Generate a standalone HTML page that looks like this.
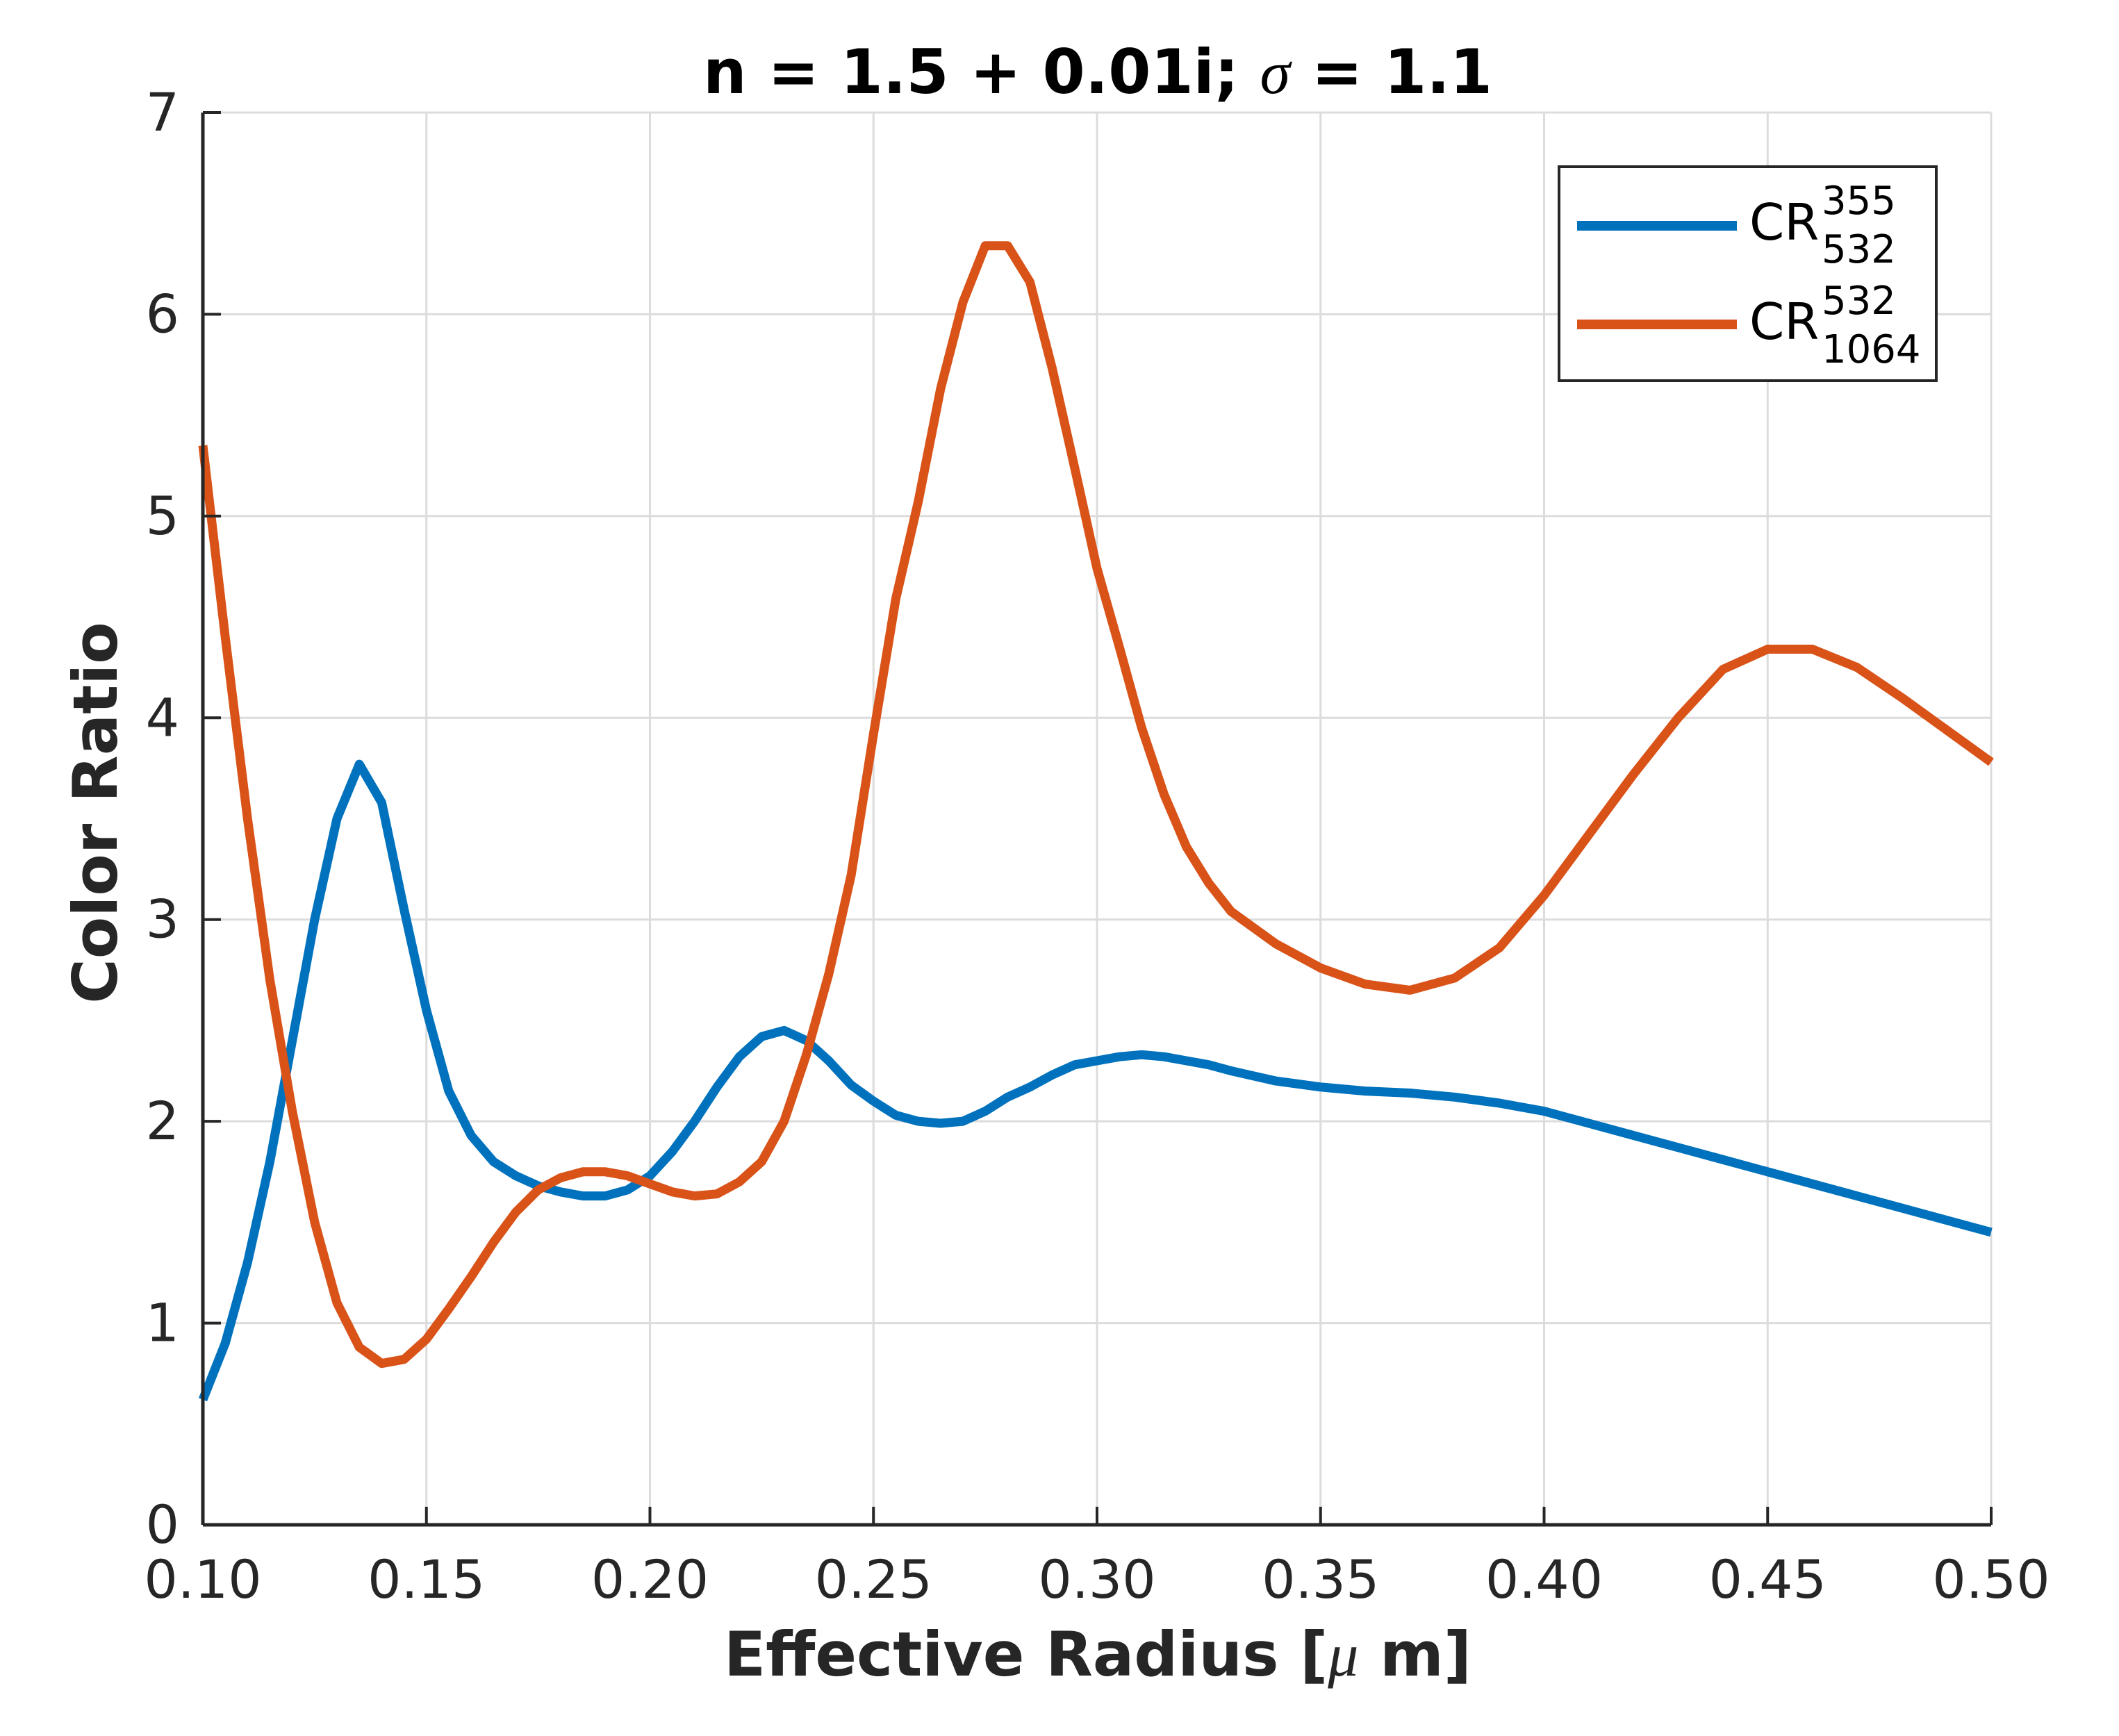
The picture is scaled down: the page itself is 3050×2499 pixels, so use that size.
<!DOCTYPE html>
<html><head><meta charset="utf-8"><style>
html,body{margin:0;padding:0;background:#fff;}
svg{display:block;font-family:"DejaVu Sans","Liberation Sans",sans-serif;}
</style></head><body>
<svg id="chart" width="3050" height="2499" viewBox="0 0 3050 2499" xmlns="http://www.w3.org/2000/svg">
<rect x="0" y="0" width="3050" height="2499" fill="#fff"/>
<g id="grid"></g>
<g id="series"></g>
<g id="axes"></g>
<text x="1580" y="134" text-anchor="middle" font-size="88" font-weight="bold" fill="#000">n = 1.5 + 0.01i; <tspan font-family="Liberation Serif,serif" font-style="italic" font-weight="normal">σ</tspan> = 1.1</text>
<text x="1580" y="2412" text-anchor="middle" font-size="88" font-weight="bold" fill="#262626">Effective Radius [<tspan font-family="Liberation Serif,serif" font-style="italic" font-weight="normal">μ</tspan> m]</text>
<text transform="translate(168,1170) rotate(-90)" text-anchor="middle" font-size="88" font-weight="bold" fill="#262626">Color Ratio</text>
<g>
<rect x="2244" y="240" width="543" height="308" fill="#fff" stroke="#262626" stroke-width="4"/>
<line x1="2270" y1="325" x2="2500" y2="325" stroke="#0072BD" stroke-width="14"/>
<text x="2518" y="345" font-size="72" fill="#000">CR</text>
<text x="2622" y="308" font-size="56" fill="#000">355</text>
<text x="2622" y="378" font-size="56" fill="#000">532</text>
<line x1="2270" y1="467" x2="2500" y2="467" stroke="#D95319" stroke-width="14"/>
<text x="2518" y="488" font-size="72" fill="#000">CR</text>
<text x="2622" y="452" font-size="56" fill="#000">532</text>
<text x="2622" y="522" font-size="56" fill="#000">1064</text>
</g>
</svg>
<script>
const radius = [0.10,0.105,0.11,0.115,0.12,0.125,0.13,0.135,0.14,0.145,0.15,0.155,0.16,0.165,0.17,0.175,0.18,0.185,0.19,0.195,0.20,0.205,0.21,0.215,0.22,0.225,0.23,0.235,0.24,0.245,0.25,0.255,0.26,0.265,0.27,0.275,0.28,0.285,0.29,0.295,0.30,0.305,0.31,0.315,0.32,0.325,0.33,0.34,0.35,0.36,0.37,0.38,0.39,0.40,0.41,0.42,0.43,0.44,0.45,0.46,0.47,0.48,0.49,0.50];
const cr355 = [0.62,0.9,1.3,1.8,2.4,3.0,3.5,3.77,3.58,3.05,2.55,2.15,1.93,1.8,1.73,1.68,1.65,1.63,1.63,1.66,1.73,1.85,2.0,2.17,2.32,2.42,2.45,2.4,2.3,2.18,2.1,2.03,2.0,1.99,2.0,2.05,2.12,2.17,2.23,2.28,2.3,2.32,2.33,2.32,2.3,2.28,2.25,2.2,2.17,2.15,2.14,2.12,2.09,2.05,1.99,1.93,1.87,1.81,1.75,1.69,1.63,1.57,1.51,1.45];
const cr532 = [5.35,4.4,3.5,2.7,2.05,1.5,1.1,0.88,0.8,0.82,0.92,1.07,1.23,1.4,1.55,1.66,1.72,1.75,1.75,1.73,1.69,1.65,1.63,1.64,1.7,1.8,2.0,2.33,2.73,3.22,3.92,4.59,5.07,5.63,6.06,6.34,6.34,6.16,5.73,5.24,4.74,4.35,3.95,3.62,3.36,3.18,3.04,2.88,2.76,2.68,2.65,2.71,2.86,3.12,3.42,3.72,4.0,4.24,4.34,4.34,4.25,4.1,3.94,3.78];
const xTicks = [0.10,0.15,0.20,0.25,0.30,0.35,0.40,0.45,0.50];
const xTickLabels = ["0.10","0.15","0.20","0.25","0.30","0.35","0.40","0.45","0.50"];
const yTicks = [0,1,2,3,4,5,6,7];
const yTickLabels = ["0","1","2","3","4","5","6","7"];

const L=292,R=2866,T=162,B=2195;
const xs = v => L + (v-0.10)/(0.50-0.10)*(R-L);
const ys = v => B - v/7*(B-T);
const NS="http://www.w3.org/2000/svg";
function mk(tag, attrs, parent){const e=document.createElementNS(NS,tag);for(const k in attrs)e.setAttribute(k,attrs[k]);parent.appendChild(e);return e;}
const grid=document.getElementById('grid'), axes=document.getElementById('axes'), series=document.getElementById('series');

xTicks.forEach((t,i)=>{
  const gl=mk('line',{x1:xs(t),x2:xs(t),y1:T,y2:B,stroke:'#dcdcdc','stroke-width':3},grid);
  
  
  const tk=mk('line',{x1:xs(t),x2:xs(t),y1:B,y2:B-26,stroke:'#262626','stroke-width':4},axes);
  
  
  const tl=mk('text',{x:xs(t),y:B+105,'text-anchor':'middle','font-size':76,fill:'#262626'},axes);
  tl.textContent=xTickLabels[i];
  
  
});
yTicks.forEach((t,i)=>{
  const gl=mk('line',{x1:L,x2:R,y1:ys(t),y2:ys(t),stroke:'#dcdcdc','stroke-width':3},grid);
  
  
  const tk=mk('line',{x1:L,x2:L+26,y1:ys(t),y2:ys(t),stroke:'#262626','stroke-width':4},axes);
  
  
  const tl=mk('text',{x:L-34,y:ys(t)+26,'text-anchor':'end','font-size':76,fill:'#262626'},axes);
  tl.textContent=yTickLabels[i];
  
  
});
const xa=mk('line',{x1:L,x2:R,y1:B,y2:B,stroke:'#262626','stroke-width':5},axes);


const ya=mk('line',{x1:L,x2:L,y1:T,y2:B,stroke:'#262626','stroke-width':5},axes);



function pts(arr){return radius.map((r,i)=>xs(r).toFixed(1)+','+ys(arr[i]).toFixed(1)).join(' ');}
const p1=mk('polyline',{points:pts(cr355),fill:'none',stroke:'#0072BD','stroke-width':13,'stroke-linejoin':'round'},series);


const p2=mk('polyline',{points:pts(cr532),fill:'none',stroke:'#D95319','stroke-width':13,'stroke-linejoin':'round'},series);


</script>
</body></html>
